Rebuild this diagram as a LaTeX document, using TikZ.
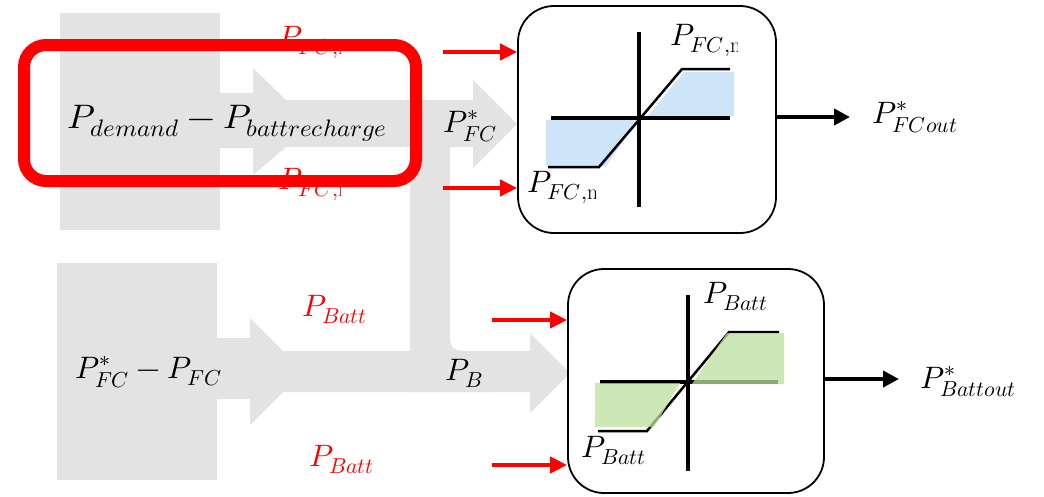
\documentclass[tikz,border=0pt]{standalone}
\usepackage{fontspec}
\usepackage{unicode-math}
\setmathfont{Latin Modern Math}
\usetikzlibrary{arrows.meta}
\definecolor{bandgray}{RGB}{227,227,227}
\definecolor{fcblue}{RGB}{205,228,249}
\definecolor{battgreen}{RGB}{190,224,160}
\begin{document}
\begin{tikzpicture}[x=1pt,y=-1pt,
  txt/.style={inner sep=0pt, anchor=base west, font=\fontsize{31}{37}\selectfont},
  bigtxt/.style={txt, font=\fontsize{34}{40}\selectfont},
  redtxt/.style={txt, text=red},
  blockbox/.style={draw=black, line width=1.8pt, rounded corners=36pt, fill=white, inner sep=0pt},
  redarrow/.style={draw=red, line width=4.5pt, -{Triangle[length=17pt,width=16pt]}},
  outarrow/.style={draw=black, line width=4pt, -{Triangle[length=16pt,width=16pt]}},
  axisline/.style={line width=3.5pt},
  satcurve/.style={line width=2.5pt},
  hilite/.style={draw=red, line width=12pt, rounded corners=22pt, inner sep=0pt}
]
\useasboundingbox (0,0) rectangle (1044,496);

% gray flow arrows
\fill[bandgray] (60,13) rectangle (220,230);
\fill[bandgray] (220,93) -- (253,93) -- (253,68) -- (286,100) -- (473,100) -- (473,80) -- (517,124) -- (473,168) -- (473,147) -- (286,147) -- (253,175) -- (253,148) -- (220,148) -- cycle;
\fill[bandgray] (410,140) -- (450,140) -- (450,326) .. controls (450,351) .. (475,351) -- (490,351) -- (490,392) -- (410,392) -- cycle;
\fill[bandgray] (57,263) rectangle (217,480);
\fill[bandgray] (217,338) -- (250,338) -- (250,318) -- (283,351) -- (530,351) -- (530,333) -- (570,373) -- (530,413) -- (530,392) -- (283,392) -- (250,425) -- (250,399) -- (217,399) -- cycle;

% saturation blocks
\node[blockbox, minimum width=258pt, minimum height=227pt] (fcbox) at (647,119.5) {};
\node[blockbox, minimum width=256pt, minimum height=224pt] (battbox) at (696,381) {};

% FC block graph
\fill[fcblue] (546,120) -- (637,120) -- (606,166) -- (546,166) -- cycle;
\fill[fcblue] (648,116) -- (684,72) -- (734,72) -- (734,116) -- cycle;
\draw[axisline] (639,32) -- (639,207);
\draw[axisline] (551,118) -- (730,118);
\draw[satcurve] (548,167) -- (599,167) -- (682,69) -- (730,69);

% Battery block graph
\draw[axisline] (688,295) -- (688,471);
\draw[axisline] (600,382) -- (778,382);
\draw[satcurve] (598,431) -- (647,431) -- (729,332) -- (779,332);
\fill[battgreen, opacity=0.75] (595,383) -- (680,383) -- (654,427) -- (595,427) -- cycle;
\fill[battgreen, opacity=0.75] (692,384) -- (727,333) -- (784,333) -- (784,384) -- cycle;

% texts
\node[bigtxt] (dem) at (67,128) {\scalebox{1.05}[1]{$P_{demand}-P_{battrecharge}$}};
\node[txt] (pfcs) at (443,132) {$P^{*}_{FC}$};
\node[txt] (pdiff) at (75,378) {$P^{*}_{FC}-P_{FC}$};
\node[txt] (pb) at (445,380) {$P_{B}$};
\node[txt] (fcout) at (872,123) {$P^{*}_{FCout}$};
\node[txt] (battout) at (920,388) {$P^{*}_{Battout}$};
\node[txt] (bbu) at (703,303) {$P_{Batt}$};
\node[txt] (bbl) at (581,457) {$P_{Batt}$};
\begin{scope}
  \clip (660,0) rectangle (737,60);
  \node[txt] (fcmax) at (670,45) {$P_{FC,\mathrm{max}}$};
\end{scope}
\begin{scope}
  \clip (520,160) rectangle (595,205);
  \node[txt] (fcmin) at (527,192) {$P_{FC,\mathrm{min}}$};
\end{scope}
\node[redtxt] (bu) at (302,316) {$P_{Batt}$};
\node[redtxt] (bl) at (309,466) {$P_{Batt}$};
\begin{scope}
  \clip (270,15) rectangle (340,70);
  \node[redtxt] (rmax) at (278,47) {$P_{FC,\mathrm{max}}$};
\end{scope}
\begin{scope}
  \clip (270,155) rectangle (340,205);
  \node[redtxt] (rmin) at (278,189) {$P_{FC,\mathrm{min}}$};
\end{scope}

% red limit arrows
\coordinate (r1) at (443,52);
\coordinate (r2) at (443,188);
\coordinate (r3) at (492,320);
\coordinate (r4) at (492,465);
\draw[redarrow] (r1) -- (r1 -| fcbox.west);
\draw[redarrow] (r2) -- (r2 -| fcbox.west);
\draw[redarrow] (r3) -- (r3 -| battbox.west);
\draw[redarrow] (r4) -- (r4 -| battbox.west);

% outputs
\coordinate (fcend) at (850,117);
\coordinate (battend) at (899,379);
\draw[outarrow] (fcbox.east |- fcend) -- (fcend);
\draw[outarrow] (battbox.east |- battend) -- (battend);

% highlight
\node[hilite, minimum width=392pt, minimum height=136pt] (hl) at (220,113) {};
\end{tikzpicture}
\end{document}
